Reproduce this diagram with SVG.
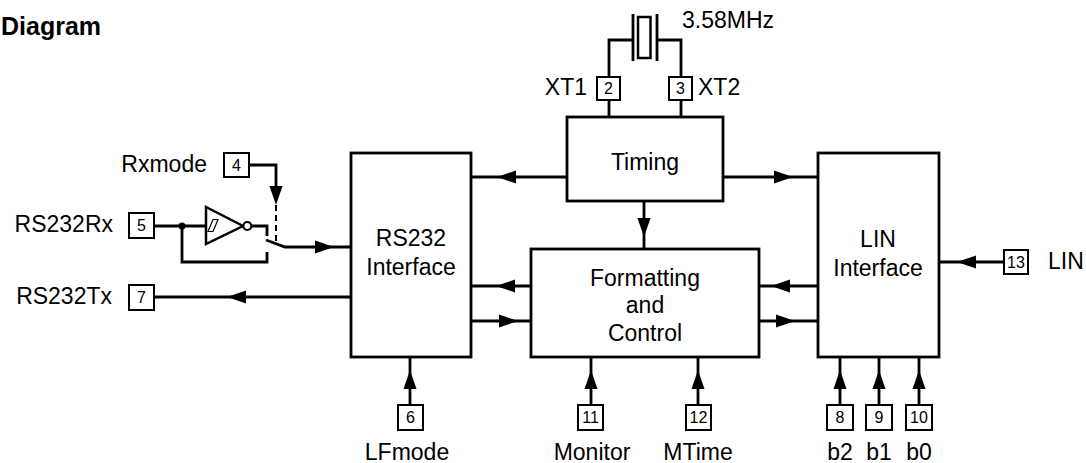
<svg xmlns="http://www.w3.org/2000/svg" xmlns:xlink="http://www.w3.org/1999/xlink" width="1086" height="463" viewBox="0 0 1086 463">
<style>
.box{fill:#fff;stroke:#000;stroke-width:2.8}
.pin{fill:#fff;stroke:#000;stroke-width:2}
.w{fill:none;stroke:#000;stroke-width:2.8}
.t{font-family:"Liberation Sans",Arial,sans-serif;font-size:23px;fill:#000}
.c{text-anchor:middle}
.e{text-anchor:end}
.pn{font-family:"Liberation Sans",Arial,sans-serif;font-size:16px;fill:#000;text-anchor:middle}
</style>
<defs>
<path id="ah" d="M0,0 L-19,-6.5 L-19,6.5 Z" fill="#000"/>
</defs>
<rect width="1086" height="463" fill="#fff"/>
<text x="1" y="35" font-family="Liberation Sans,Arial,sans-serif" font-size="25" font-weight="bold">Diagram</text>

<g id="connectors">
<path class="w" d="M633,40 H609 V77 M657,40 H681 V77"/>
<path class="w" d="M609,100 V117 M681,100 V117"/>
<path class="w" d="M567,177 H471"/>
<use href="#ah" transform="translate(497,177) rotate(180)"/>
<path class="w" d="M723,177 H818"/>
<use href="#ah" transform="translate(793,177)"/>
<path class="w" d="M644,201 V249"/>
<use href="#ah" transform="translate(644,237) rotate(90)"/>
<path class="w" d="M531,286 H471"/>
<use href="#ah" transform="translate(496,286) rotate(180)"/>
<path class="w" d="M471,321 H531"/>
<use href="#ah" transform="translate(518,321)"/>
<path class="w" d="M818,286 H759"/>
<use href="#ah" transform="translate(771,286) rotate(180)"/>
<path class="w" d="M759,321 H818"/>
<use href="#ah" transform="translate(795,321)"/>
<path class="w" d="M1004,262 H939"/>
<use href="#ah" transform="translate(957,262) rotate(180)"/>
<path class="w" d="M351,297 H154"/>
<use href="#ah" transform="translate(227,297) rotate(180)"/>
<path class="w" d="M154,226 H206"/>
<circle cx="182" cy="226" r="3.5" fill="#000"/>
<path class="w" d="M182,226 V262 H267 V252"/>
<path class="w" d="M251,226 H267 V236"/>
<path class="w" d="M266,240 L285,247 H351"/>
<use href="#ah" transform="translate(334,247)"/>
<path class="w" d="M249,165 H276 V200"/>
<use href="#ah" transform="translate(276,205) rotate(90)"/>
<path d="M276,205 V242" fill="none" stroke="#000" stroke-width="2" stroke-dasharray="6,4"/>
<path class="w" d="M410,405 V357"/>
<use href="#ah" transform="translate(410,370) rotate(-90)"/>
<path class="w" d="M591,405 V357"/>
<use href="#ah" transform="translate(591,370) rotate(-90)"/>
<path class="w" d="M698,405 V357"/>
<use href="#ah" transform="translate(698,370) rotate(-90)"/>
<path class="w" d="M840,405 V357"/>
<use href="#ah" transform="translate(840,370) rotate(-90)"/>
<path class="w" d="M879,405 V357"/>
<use href="#ah" transform="translate(879,370) rotate(-90)"/>
<path class="w" d="M919,405 V357"/>
<use href="#ah" transform="translate(919,370) rotate(-90)"/>
</g>

<g id="crystal">
<path class="w" d="M633,14 V61 M657,14 V61"/>
<rect x="638" y="17" width="12.5" height="41" fill="#fff" stroke="#000" stroke-width="2.5"/>
<text class="t" x="682" y="28">3.58MHz</text>
</g>

<g id="buffer">
<path d="M206,207 L243,226 L206,244 Z" fill="#fff" stroke="#000" stroke-width="2.5"/>
<circle cx="247.3" cy="226" r="4" fill="#fff" stroke="#000" stroke-width="2.2"/>
<path d="M208,231.5 H213 L218,219.5 H213 Z" fill="none" stroke="#000" stroke-width="1.2"/>
</g>

<g id="timing">
<rect class="box" x="567" y="117" width="156" height="84"/>
<text class="t c" x="645" y="170">Timing</text>
</g>
<g id="rs232">
<rect class="box" x="351" y="153" width="120" height="204"/>
<text class="t c" x="411" y="246">RS232</text>
<text class="t c" x="411" y="275">Interface</text>
</g>
<g id="formatting">
<rect class="box" x="531" y="249" width="228" height="108"/>
<text class="t c" x="645" y="286">Formatting</text>
<text class="t c" x="645" y="313">and</text>
<text class="t c" x="645" y="341">Control</text>
</g>
<g id="lin">
<rect class="box" x="818" y="153" width="121" height="204"/>
<text class="t c" x="878" y="247">LIN</text>
<text class="t c" x="878" y="276">Interface</text>
</g>

<g id="pin2"><rect class="pin" x="597" y="77" width="23" height="23"/><text class="pn" x="608.5" y="94">2</text><text class="t e" x="587" y="95">XT1</text></g>
<g id="pin3"><rect class="pin" x="669" y="77" width="23" height="23"/><text class="pn" x="680.5" y="94">3</text><text class="t" x="698" y="95">XT2</text></g>
<g id="pin4"><rect class="pin" x="224" y="153" width="25" height="24"/><text class="pn" x="236.5" y="171">4</text><text class="t e" x="207" y="172">Rxmode</text></g>
<g id="pin5"><rect class="pin" x="129" y="213" width="25" height="25"/><text class="pn" x="141.5" y="231">5</text><text class="t e" x="113" y="232">RS232Rx</text></g>
<g id="pin7"><rect class="pin" x="129" y="285" width="25" height="25"/><text class="pn" x="141.5" y="303">7</text><text class="t e" x="112" y="304">RS232Tx</text></g>
<g id="pin13"><rect class="pin" x="1004" y="250" width="24" height="24"/><text class="pn" x="1016" y="267.5">13</text><text class="t" x="1048" y="269">LIN</text></g>
<g id="pin6"><rect class="pin" x="398" y="405" width="25" height="25"/><text class="pn" x="410.5" y="423">6</text><text class="t c" x="407" y="460">LFmode</text></g>
<g id="pin11"><rect class="pin" x="578" y="405" width="25" height="25"/><text class="pn" x="590.5" y="423">11</text><text class="t c" x="592" y="460">Monitor</text></g>
<g id="pin12"><rect class="pin" x="686" y="405" width="25" height="25"/><text class="pn" x="698.5" y="423">12</text><text class="t c" x="698" y="460">MTime</text></g>
<g id="pin8"><rect class="pin" x="827" y="405" width="26" height="25"/><text class="pn" x="840" y="423">8</text><text class="t c" x="840" y="460">b2</text></g>
<g id="pin9"><rect class="pin" x="866" y="405" width="26" height="25"/><text class="pn" x="879" y="423">9</text><text class="t c" x="879" y="460">b1</text></g>
<g id="pin10"><rect class="pin" x="906" y="405" width="26" height="25"/><text class="pn" x="919" y="423">10</text><text class="t c" x="919" y="460">b0</text></g>
</svg>
